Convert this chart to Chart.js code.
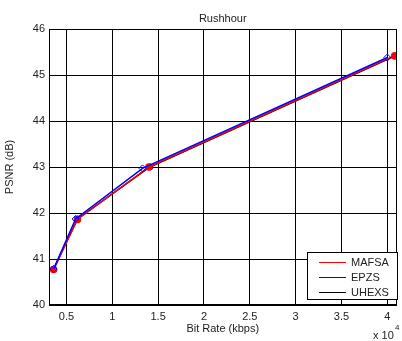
<!DOCTYPE html>
<html>
<head>
<meta charset="utf-8">
<script src="https://cdn.jsdelivr.net/npm/chart.js@4.4.0/dist/chart.umd.min.js"></script>
<style>
  html, body { margin: 0; padding: 0; background: #fff; }
  #wrap { width: 402px; height: 341px; }
</style>
</head>
<body>
<div id="wrap"><canvas id="psnrChart" width="402" height="341"></canvas></div>
<script>
// bit rate in kbps, PSNR in dB
const mafsaRate = [3600, 6200, 14000, 40800];
const mafsaPsnr = [40.77, 41.86, 43.00, 45.42];
const epzsRate = [3600, 6000, 13300, 40000];
const epzsPsnr = [40.78, 41.87, 42.97, 45.38];
const uhexsRate = [3600, 6200, 14100, 40800];
const uhexsPsnr = [40.78, 41.87, 43.00, 45.41];

const xTicks = [5000, 10000, 15000, 20000, 25000, 30000, 35000, 40000];
const yTicks = [40, 41, 42, 43, 44, 45, 46];
const seriesNames = ['MAFSA', 'EPZS', 'UHEXS'];
const seriesColors = ['#ff0000', '#0000ff', '#000000'];

const FONT = '"Liberation Sans", Arial, sans-serif';

const toPoints = (xs, ys) => xs.map((x, i) => ({ x: x, y: ys[i] }));

const textPlugin = {
    id: 'matlabText',
    afterDraw(chart) {
        const ctx = chart.ctx;
        const area = chart.chartArea;
        ctx.save();

        // box round the axes
        ctx.strokeStyle = '#000';
        ctx.lineWidth = 1;
        ctx.strokeRect(Math.round(area.left) + 0.5, Math.round(area.top) + 0.5,
            Math.round(area.right - area.left) - 1, Math.round(area.bottom - area.top) - 1);

        ctx.fillStyle = '#222';
        ctx.font = '11px ' + FONT;
        ctx.textAlign = 'center';
        ctx.textBaseline = 'middle';
        ctx.fillText('Rushhour', (area.left + area.right) / 2, 19);
        ctx.fillText('Bit Rate (kbps)', (area.left + area.right) / 2, 329);

        ctx.save();
        ctx.translate(10, (area.top + area.bottom) / 2);
        ctx.rotate(-Math.PI / 2);
        ctx.fillText('PSNR (dB)', 0, 0);
        ctx.restore();

        ctx.textAlign = 'left';
        ctx.fillText('x 10', 373, 336);
        ctx.font = '8px ' + FONT;
        ctx.fillText('4', 395, 328);

        // legend
        const lx = 307, ly = 252, lw = 90, lh = 47;
        ctx.fillStyle = '#fff';
        ctx.fillRect(lx, ly, lw, lh);
        ctx.strokeStyle = '#000';
        ctx.lineWidth = 1;
        ctx.strokeRect(lx + 0.5, ly + 0.5, lw, lh);
        ctx.font = '11px ' + FONT;
        seriesNames.forEach((name, i) => {
            const y = ly + 10 + i * 15;
            ctx.strokeStyle = seriesColors[i];
            ctx.lineWidth = 1;
            ctx.beginPath();
            ctx.moveTo(319, y + 0.5);
            ctx.lineTo(346, y + 0.5);
            ctx.stroke();
            ctx.fillStyle = '#222';
            ctx.fillText(name, 351, y + 1);
        });
        ctx.restore();
    }
};

new Chart(document.getElementById('psnrChart').getContext('2d'), {
    type: 'scatter',
    data: {
        datasets: [{
            label: 'EPZS',
            data: toPoints(epzsRate, epzsPsnr),
            showLine: true,
            borderColor: '#0000ff',
            backgroundColor: 'rgba(0,0,0,0)',
            borderWidth: 1.5,
            pointStyle: 'rectRot',
            pointRadius: 3.5,
            pointBorderColor: '#0000ff',
            pointBorderWidth: 1,
            order: 0
        }, {
            label: 'MAFSA',
            data: toPoints(mafsaRate, mafsaPsnr),
            showLine: true,
            borderColor: '#ff0000',
            backgroundColor: '#ff0000',
            borderWidth: 1.5,
            pointStyle: 'circle',
            pointRadius: 3,
            pointBackgroundColor: '#ff0000',
            pointBorderColor: '#ff0000',
            order: 1
        }, {
            label: 'UHEXS',
            data: toPoints(uhexsRate, uhexsPsnr),
            showLine: true,
            borderColor: '#000000',
            backgroundColor: 'rgba(0,0,0,0)',
            borderWidth: 1.5,
            pointStyle: 'circle',
            pointRadius: 3,
            pointBorderColor: '#000000',
            pointBorderWidth: 1,
            order: 2
        }]
    },
    options: {
        responsive: false,
        animation: false,
        layout: { padding: { top: 29, right: 2, left: 0, bottom: 0 } },
        plugins: {
            legend: { display: false },
            title: { display: false },
            tooltip: { enabled: false }
        },
        scales: {
            x: {
                type: 'linear',
                min: 3100,
                max: 41000,
                afterBuildTicks: (scale) => { scale.ticks = xTicks.map(v => ({ value: v })); },
                afterFit: (scale) => { scale.height = 36; },
                grid: { color: '#000', lineWidth: 1, drawTicks: false },
                border: { display: true, color: '#000', width: 1 },
                ticks: {
                    color: '#222',
                    padding: 5,
                    maxRotation: 0,
                    font: { family: FONT, size: 11 },
                    callback: (value) => String(value / 10000)
                }
            },
            y: {
                min: 40,
                max: 46,
                afterBuildTicks: (scale) => { scale.ticks = yTicks.map(v => ({ value: v })); },
                afterFit: (scale) => { scale.width = 49; },
                grid: { color: '#000', lineWidth: 1, drawTicks: false },
                border: { display: true, color: '#000', width: 1 },
                ticks: {
                    color: '#222',
                    padding: 4,
                    font: { family: FONT, size: 11 }
                }
            }
        }
    },
    plugins: [textPlugin]
});
</script>
</body>
</html>
